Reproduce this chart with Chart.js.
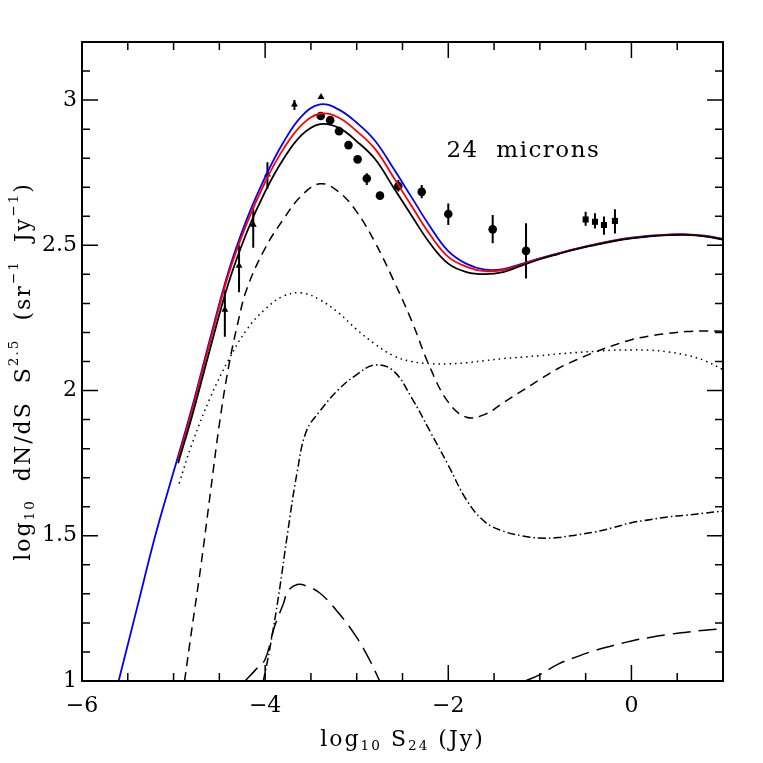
<!DOCTYPE html>
<html>
<head>
<meta charset="utf-8">
<script src="https://cdn.jsdelivr.net/npm/chart.js@4.4.1/dist/chart.umd.min.js"></script>
<style>
html, body { margin: 0; padding: 0; background: #fff; }
#wrap { width: 763px; height: 763px; }
</style>
</head>
<body>
<div id="wrap"><canvas id="chart" width="763" height="763"></canvas></div>
<script>
// model totals (blue, red, black)
const blueX = [-5.6, -5.4, -5.2, -5.0, -4.8, -4.6, -4.4, -4.2, -4.0, -3.8, -3.6, -3.4, -3.2, -3.0, -2.8, -2.6, -2.4, -2.2, -2.0, -1.8, -1.6, -1.4, -1.2, -1.0, -0.8, -0.6, -0.4, -0.2, 0.0, 0.2, 0.4, 0.6, 0.8, 1.0];
const blueY = [1.0, 1.25, 1.5, 1.72, 1.94, 2.18, 2.41, 2.59, 2.735, 2.855, 2.945, 2.985, 2.968, 2.922, 2.86, 2.765, 2.665, 2.565, 2.48, 2.436, 2.416, 2.418, 2.436, 2.455, 2.472, 2.489, 2.503, 2.516, 2.526, 2.533, 2.537, 2.538, 2.533, 2.522];

const redX = [-4.95, -4.8, -4.6, -4.4, -4.2, -4.0, -3.8, -3.6, -3.4, -3.2, -3.0, -2.8, -2.6, -2.4, -2.2, -2.0, -1.8, -1.6, -1.4, -1.2, -1.0, -0.8, -0.6, -0.4, -0.2, 0.0, 0.2, 0.4, 0.6, 0.8, 1.0];
const redY = [1.765, 1.93, 2.17, 2.40, 2.575, 2.718, 2.832, 2.915, 2.953, 2.94, 2.893, 2.832, 2.735, 2.635, 2.537, 2.46, 2.426, 2.411, 2.415, 2.434, 2.454, 2.471, 2.488, 2.502, 2.515, 2.525, 2.532, 2.536, 2.537, 2.532, 2.521];
const blackY = [1.75, 1.91, 2.145, 2.37, 2.545, 2.685, 2.797, 2.88, 2.917, 2.905, 2.858, 2.797, 2.7, 2.602, 2.507, 2.437, 2.408, 2.401, 2.408, 2.43, 2.452, 2.47, 2.487, 2.501, 2.514, 2.524, 2.531, 2.535, 2.536, 2.531, 2.52];

// components
const dashX = [-4.88, -4.8, -4.7, -4.6, -4.5, -4.4, -4.3, -4.2, -4.0, -3.8, -3.6, -3.4, -3.2, -3.0, -2.8, -2.6, -2.4, -2.2, -2.0, -1.8, -1.6, -1.4, -1.2, -1.0, -0.8, -0.6, -0.4, -0.2, 0.0, 0.2, 0.4, 0.6, 0.8, 1.0];
const dashY = [1.0, 1.18, 1.40, 1.643, 1.884, 2.08, 2.23, 2.35, 2.49, 2.59, 2.672, 2.712, 2.685, 2.615, 2.51, 2.381, 2.24, 2.08, 1.96, 1.908, 1.918, 1.958, 1.998, 2.038, 2.076, 2.106, 2.132, 2.155, 2.175, 2.188, 2.197, 2.203, 2.205, 2.204];

const dotX = [-4.94, -4.8, -4.6, -4.4, -4.2, -4.0, -3.8, -3.6, -3.4, -3.2, -3.0, -2.8, -2.6, -2.4, -2.2, -2.0, -1.8, -1.6, -1.4, -1.2, -1.0, -0.8, -0.6, -0.4, -0.2, 0.0, 0.2, 0.4, 0.6, 0.8, 1.0];
const dotY = [1.68, 1.815, 1.975, 2.105, 2.21, 2.28, 2.325, 2.336, 2.312, 2.268, 2.21, 2.16, 2.12, 2.1, 2.093, 2.092, 2.096, 2.103, 2.11, 2.115, 2.12, 2.126, 2.131, 2.135, 2.139, 2.14, 2.139, 2.133, 2.122, 2.103, 2.072];

const dashDotX = [-4.02, -3.95, -3.85, -3.75, -3.65, -3.55, -3.4, -3.2, -3.0, -2.8, -2.6, -2.4, -2.2, -2.0, -1.8, -1.6, -1.4, -1.2, -1.0, -0.8, -0.6, -0.4, -0.2, 0.0, 0.2, 0.4, 0.6, 0.8, 1.0];
const dashDotY = [1.0, 1.11, 1.30, 1.52, 1.72, 1.86, 1.93, 2.003, 2.055, 2.088, 2.068, 1.975, 1.86, 1.743, 1.623, 1.548, 1.516, 1.5, 1.492, 1.494, 1.503, 1.513, 1.528, 1.545, 1.555, 1.565, 1.571, 1.578, 1.585];

const longLoX = [-4.22, -4.1, -4.0, -3.9, -3.8, -3.75, -3.65, -3.55, -3.4, -3.2, -3.0, -2.85, -2.75];
const longLoY = [1.0, 1.04, 1.075, 1.185, 1.267, 1.31, 1.332, 1.327, 1.302, 1.235, 1.15, 1.067, 1.0];
const longHiX = [-1.16, -1.0, -0.8, -0.6, -0.4, -0.2, 0.0, 0.2, 0.4, 0.6, 0.8, 1.0];
const longHiY = [1.0, 1.022, 1.058, 1.083, 1.105, 1.122, 1.138, 1.15, 1.16, 1.168, 1.175, 1.18];

// observed counts
const triX = [-4.44, -4.285, -4.13, -3.975, -3.68, -3.39];
const triY = [2.278, 2.43, 2.571, 2.744, 2.985, 3.011];
const triLo = [2.185, 2.338, 2.492, 2.695, 2.966, 3.011];
const triHi = [2.345, 2.50, 2.627, 2.786, 3.0, 3.011];

const circX = [-3.393, -3.29, -3.193, -3.09, -2.99, -2.89, -2.746, -2.546, -2.29, -2.0, -1.515, -1.151];
const circY = [2.945, 2.931, 2.893, 2.845, 2.796, 2.730, 2.671, 2.704, 2.684, 2.608, 2.555, 2.481];
const circLo = [2.935, 2.922, 2.884, 2.836, 2.787, 2.708, 2.662, 2.685, 2.662, 2.570, 2.507, 2.386];
const circHi = [2.955, 2.94, 2.902, 2.854, 2.805, 2.748, 2.68, 2.725, 2.708, 2.644, 2.604, 2.576];

const sqX = [-0.50, -0.398, -0.30, -0.18];
const sqY = [2.589, 2.581, 2.570, 2.584];
const sqLo = [2.567, 2.558, 2.536, 2.541];
const sqHi = [2.616, 2.610, 2.599, 2.624];

// axes
const xMajorTicks = [-6, -4, -2, 0];
const yMajorTicks = [1, 1.5, 2, 2.5, 3];
const xMinorStep = 0.5;
const yMinorStep = 0.1;

const FONT = '"DejaVu Serif", "Liberation Serif", serif';

function pts(xs, ys) {
    return xs.map((x, i) => ({ x: x, y: ys[i] }));
}

function errBars(xs, lo, hi) {
    const out = [];
    xs.forEach((x, i) => {
        if (hi[i] > lo[i]) {
            out.push({ x: x, y: lo[i] }, { x: x, y: hi[i] }, { x: x, y: null });
        }
    });
    return out;
}

function curve(data, color, dash, width) {
    return {
        data: data,
        borderColor: color,
        borderWidth: width || 1.5,
        borderDash: dash || [],
        pointRadius: 0,
        fill: false,
        tension: 0.4,
        spanGaps: false
    };
}

function markers(data, style, r) {
    return {
        data: data,
        showLine: false,
        pointStyle: style,
        pointRadius: r,
        pointBackgroundColor: '#000',
        pointBorderColor: '#000',
        pointBorderWidth: 0
    };
}

const errData = errBars(triX, triLo, triHi)
    .concat(errBars(circX, circLo, circHi))
    .concat(errBars(sqX, sqLo, sqHi));

const datasets = [
    curve(pts(dashX, dashY), '#000', [9, 6]),
    curve(pts(dotX, dotY), '#000', [1.5, 4]),
    curve(pts(dashDotX, dashDotY), '#000', [8, 3, 1.5, 3]),
    curve(pts(longLoX, longLoY), '#000', [18, 8]),
    curve(pts(longHiX, longHiY), '#000', [18, 8]),
    curve(pts(redX, blackY), '#000', [], 1.8),
    curve(pts(redX, redY), '#ff0000', [], 1.8),
    curve(pts(blueX, blueY), '#0000ff', [], 1.8),
    { data: errData, borderColor: '#000', borderWidth: 2, pointRadius: 0, spanGaps: false, fill: false },
    markers(pts(triX, triY), 'triangle', 4),
    markers(pts(circX, circY), 'circle', 4.3),
    markers(pts(sqX, sqY), 'rect', 4.3)
];

// frame with inward ticks on all four sides
const framePlugin = {
    id: 'frame',
    afterDatasetsDraw(chart) {
        const { ctx, chartArea: a, scales: { x, y } } = chart;
        ctx.save();
        ctx.strokeStyle = '#000';
        ctx.lineWidth = 1.5;
        ctx.beginPath();
        for (let v = x.min; v <= x.max + 1e-9; v += xMinorStep) {
            const px = x.getPixelForValue(v);
            const len = xMajorTicks.some(t => Math.abs(t - v) < 1e-6) ? 16 : 8;
            ctx.moveTo(px, a.bottom); ctx.lineTo(px, a.bottom - len);
            ctx.moveTo(px, a.top); ctx.lineTo(px, a.top + len);
        }
        for (let v = y.min; v <= y.max + 1e-9; v += yMinorStep) {
            const py = y.getPixelForValue(v);
            const len = yMajorTicks.some(t => Math.abs(t - v) < 1e-6) ? 16 : 8;
            ctx.moveTo(a.left, py); ctx.lineTo(a.left + len, py);
            ctx.moveTo(a.right, py); ctx.lineTo(a.right - len, py);
        }
        ctx.stroke();
        ctx.lineWidth = 2;
        ctx.strokeRect(a.left, a.top, a.right - a.left, a.bottom - a.top);
        ctx.restore();
    }
};

// text with sub/superscripts
function drawRich(ctx, parts, cx, cy, size) {
    let total = 0;
    const widths = parts.map(p => {
        const s = p.s ? size * 0.62 : size;
        ctx.font = s + 'px ' + FONT;
        const w = ctx.measureText(p.t).width;
        total += w;
        return w;
    });
    let xx = cx - total / 2;
    ctx.textAlign = 'left';
    ctx.textBaseline = 'middle';
    parts.forEach((p, i) => {
        const s = p.s ? size * 0.62 : size;
        ctx.font = s + 'px ' + FONT;
        const dy = p.s === -1 ? size * 0.3 : (p.s === 1 ? -size * 0.42 : 0);
        ctx.fillText(p.t, xx, cy + dy);
        xx += widths[i];
    });
}

const xTitle = [{ t: 'log' }, { t: '10', s: -1 }, { t: ' S' }, { t: '24', s: -1 }, { t: ' (Jy)' }];
const yTitle = [{ t: 'log' }, { t: '10', s: -1 }, { t: '  dN/dS  S' }, { t: '2.5', s: 1 }, { t: '  (sr' },
    { t: '\u22121', s: 1 }, { t: '  Jy' }, { t: '\u22121', s: 1 }, { t: ')' }];

const textPlugin = {
    id: 'texts',
    afterDraw(chart) {
        const { ctx, chartArea: a, scales: { x, y } } = chart;
        ctx.save();
        ctx.fillStyle = '#000';
        ctx.letterSpacing = '2px';
        drawRich(ctx, xTitle, (a.left + a.right) / 2, 740, 22);
        ctx.save();
        ctx.translate(24, (a.top + a.bottom) / 2 + 10);
        ctx.rotate(-Math.PI / 2);
        drawRich(ctx, yTitle, 0, 0, 22);
        ctx.restore();
        ctx.letterSpacing = '1.5px';
        drawRich(ctx, [{ t: '24  microns' }], x.getPixelForValue(-1.18), y.getPixelForValue(2.826), 23);
        ctx.restore();
    }
};

function fmt(v) {
    return v < 0 ? '\u2212' + Math.abs(v) : String(v);
}

new Chart(document.getElementById('chart'), {
    type: 'line',
    data: { datasets: datasets },
    options: {
        responsive: false,
        animation: false,
        devicePixelRatio: 1,
        layout: { padding: { left: 0, right: 40, top: 42, bottom: 0 } },
        plugins: { legend: { display: false }, tooltip: { enabled: false } },
        scales: {
            x: {
                type: 'linear', min: -6, max: 1,
                grid: { display: false, drawTicks: false },
                border: { display: false },
                afterBuildTicks: s => { s.ticks = xMajorTicks.map(v => ({ value: v })); },
                afterFit: s => { s.height = 82; },
                ticks: { padding: 12, color: '#000', font: { family: FONT, size: 22 }, maxRotation: 0, autoSkip: false, callback: v => fmt(v) }
            },
            y: {
                type: 'linear', min: 1, max: 3.2,
                grid: { display: false, drawTicks: false },
                border: { display: false },
                afterBuildTicks: s => { s.ticks = yMajorTicks.map(v => ({ value: v })); },
                afterFit: s => { s.width = 82; },
                ticks: { padding: 5, color: '#000', font: { family: FONT, size: 22 }, autoSkip: false, callback: v => fmt(v) }
            }
        }
    },
    plugins: [framePlugin, textPlugin]
});
</script>
</body>
</html>
